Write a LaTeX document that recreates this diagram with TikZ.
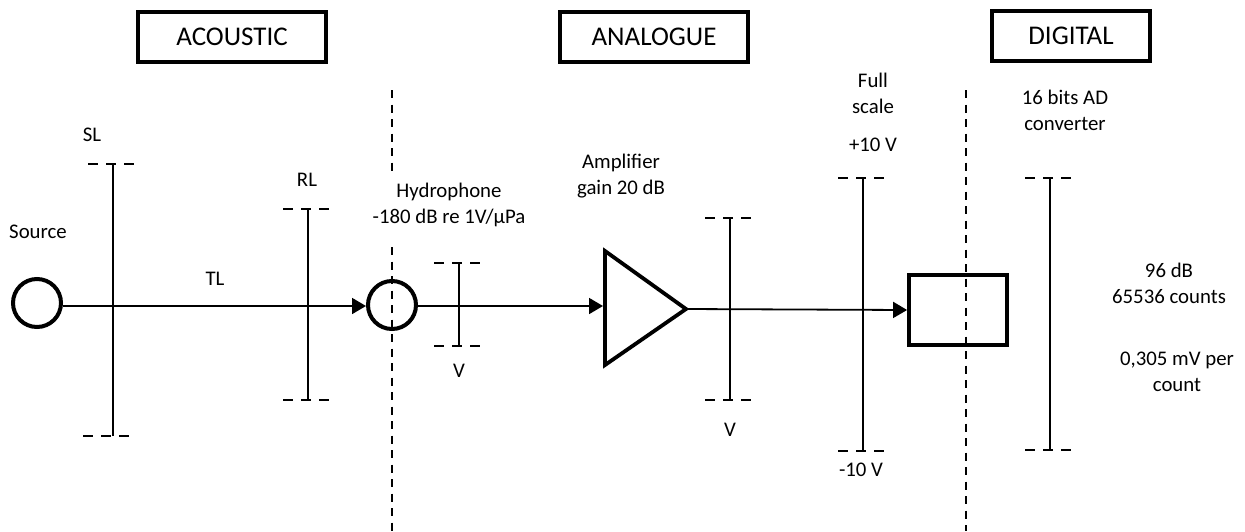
\documentclass[tikz,border=0pt]{standalone}
\usepackage{fontspec}
\setmainfont{Carlito}
\usetikzlibrary{arrows.meta}
\tikzset{
  x=1pt,y=-1pt,
  tbox/.style={draw,line width=3.8pt,minimum height=50pt,inner sep=0pt,font=\fontsize{27}{30}\selectfont},
  lab/.style={inner sep=0pt,align=center,font=\fontsize{20.8}{26}\selectfont},
  ring/.style={draw,circle,line width=4pt,minimum size=48pt,inner sep=0pt},
  flow/.style={line width=1.8pt,-{Triangle[length=14pt,width=16pt]}},
  bar/.style={line width=1.5pt},
  capline/.style={line width=1.4pt,dash pattern=on 10pt off 8pt},
  divider/.style={line width=1.5pt,dash pattern=on 8pt off 6.5pt},
}
\newcommand{\levelbar}[5]{% name, x, top, bottom, offset of the lower cap
  \coordinate (#1t) at (#2,#3);
  \coordinate (#1b) at (#2,#4);
  \coordinate (#1tl) at (#2-25,#3);
  \coordinate (#1tr) at (#2+25,#3);
  \coordinate (#1bl) at (#2-25+#5,#4);
  \coordinate (#1br) at (#2+25+#5,#4);
  \draw[bar] (#1t) -- (#1b);
  \draw[capline] (#1tl) -- (#1tr);
  \draw[capline] (#1bl) -- (#1br);
}
\begin{document}
\begin{tikzpicture}
\useasboundingbox (0,0) rectangle (1245,531);
\node[tbox,minimum width=188pt] (acoustic) at (232,37) {ACOUSTIC};
\node[tbox,minimum width=188pt] (analogue) at (654,37) {ANALOGUE};
\node[tbox,minimum width=158pt] (digital) at (1071,36) {DIGITAL};

\coordinate (d1a) at (392,90);
\coordinate (d1b) at (392,174);
\coordinate (d1c) at (392,247);
\coordinate (d1d) at (392,531);
\coordinate (d2a) at (966,90);
\coordinate (d2d) at (966,531);
\draw[divider] (d1a) -- (d1b);
\draw[divider] (d1c) -- (d1d);
\draw[divider] (d2a) -- (d2d);

\levelbar{sl}{113}{164}{436}{-5}
\levelbar{rl}{308}{209}{400}{0}
\levelbar{va}{459}{263}{346}{0}
\levelbar{vb}{730}{218}{400}{0}
\levelbar{fs}{863}{178}{451}{0}
\levelbar{ad}{1050}{178}{450}{0}

\node[ring] (source) at (37,303) {};
\node[ring] (hydro) at (392,305) {};
\node[draw,line width=3.8pt,minimum width=98pt,minimum height=70pt,inner sep=0pt] (adc) at (958,310) {};
\coordinate (tri1) at (605,251);
\coordinate (tri2) at (605,365);
\coordinate (tri3) at (686,309);
\draw[line width=3.8pt,line join=miter] (tri1) -- (tri3) -- (tri2) -- cycle;
\coordinate (triin) at (603,306);

\draw[flow] (source.east |- 0,306) -- (hydro.west |- 0,306);
\draw[flow] (hydro.east |- 0,306) -- (triin);
\draw[flow] (tri3) -- (adc.west);

\node[lab] (tsource) at (38,232) {Source};
\node[lab] (tsl) at (92,135) {SL};
\node[lab] (trl) at (307,180) {RL};
\node[lab] (ttl) at (215,279) {TL};
\node[lab] (thyd) at (449,205) {Hydrophone\\-180 dB re 1V/µPa};
\node[lab] (tv1) at (459,371) {V};
\node[lab] (tamp) at (621,176) {Amplifier\\gain 20 dB};
\node[lab] (tv2) at (730,430) {V};
\node[lab] (tfull) at (873,93) {Full\\scale};
\node[lab] (tp10) at (873,145) {+10 V};
\node[lab] (tm10) at (861,470) {-10 V};
\node[lab] (tbits) at (1065,110) {16 bits AD\\converter};
\node[lab] (tcounts) at (1169,283) {96 dB\\65536 counts};
\node[lab] (tmv) at (1177,372) {0,305 mV per\\count};
\end{tikzpicture}
\end{document}
